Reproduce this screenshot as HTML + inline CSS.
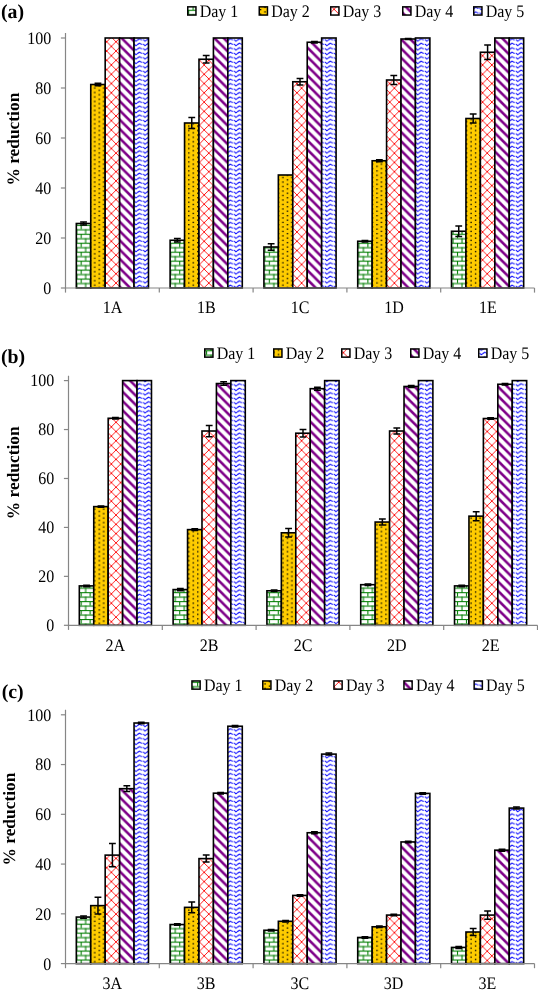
<!DOCTYPE html>
<html><head><meta charset="utf-8"><style>
html,body{margin:0;padding:0;background:#fff;}
text{text-rendering:geometricPrecision;}
svg{display:block;will-change:transform;}
.t{font-family:"Liberation Serif",serif;font-size:16.0px;fill:#000;}
.yl{font-family:"Liberation Serif",serif;font-size:17.4px;font-weight:bold;fill:#000;}
.pl{font-family:"Liberation Serif",serif;font-size:19.8px;font-weight:bold;fill:#000;}
</style></head><body>
<svg width="538" height="994" viewBox="0 0 538 994">
<defs>
<pattern id="p1" patternUnits="userSpaceOnUse" width="8" height="8" patternTransform="translate(0,0.8) scale(1.12)">
<rect width="8" height="8" fill="#fff"/>
<rect x="0" y="0" width="8" height="0.95" fill="#007d00"/><rect x="0" y="4" width="8" height="0.95" fill="#007d00"/>
<rect x="0" y="0" width="0.95" height="4" fill="#007d00"/><rect x="4" y="4" width="0.95" height="4" fill="#007d00"/></pattern>
<pattern id="p2" patternUnits="userSpaceOnUse" width="8" height="8" patternTransform="scale(1.12)">
<rect width="8" height="8" fill="#ffcc00"/>
<rect x="0" y="0" width="1.2" height="1.2" fill="#000"/><rect x="4" y="2" width="1.2" height="1.2" fill="#000"/>
<rect x="0" y="4" width="1.2" height="1.2" fill="#000"/><rect x="4" y="6" width="1.2" height="1.2" fill="#000"/></pattern>
<pattern id="p3" patternUnits="userSpaceOnUse" width="8" height="8" patternTransform="scale(1.16)">
<rect width="8" height="8" fill="#fff"/>
<path d="M-1,-1 L9,9 M9,-1 L-1,9" stroke="#ff0000" stroke-width="0.75" fill="none"/></pattern>
<pattern id="p4" patternUnits="userSpaceOnUse" width="8" height="8" patternTransform="scale(1.16)">
<rect width="8" height="8" fill="#fff"/>
<path d="M-4,-4 L12,12 M-4,4 L4,12 M4,-4 L12,4" stroke="#7e0088" stroke-width="2.2" fill="none"/></pattern>
<pattern id="p5" patternUnits="userSpaceOnUse" width="8" height="4" patternTransform="translate(3.35,1.9) scale(1.136,1.12)">
<rect width="8" height="4" fill="#fff"/>
<path d="M-1.7,1.9 L0,0.9 L1.5,1.9 L2.1,1.9 M3.0,1.9 L3.5,1.9 L4.75,3.1 L6.3,1.9 L8,0.9 L9.5,1.9" stroke="#0a0aff" stroke-width="0.95" fill="none" stroke-linejoin="round"/></pattern>
</defs>
<rect width="538" height="994" fill="#fff"/>
<rect x="76.32" y="223.50" width="14.43" height="64.50" fill="url(#p1)" stroke="#000" stroke-width="1.6"/>
<rect x="90.75" y="84.50" width="14.43" height="203.50" fill="url(#p2)" stroke="#000" stroke-width="1.6"/>
<rect x="105.18" y="38.00" width="14.43" height="250.00" fill="url(#p3)" stroke="#000" stroke-width="1.6"/>
<rect x="119.62" y="38.00" width="14.43" height="250.00" fill="url(#p4)" stroke="#000" stroke-width="1.6"/>
<rect x="134.05" y="38.00" width="14.43" height="250.00" fill="url(#p5)" stroke="#000" stroke-width="1.6"/>
<rect x="170.12" y="240.25" width="14.43" height="47.75" fill="url(#p1)" stroke="#000" stroke-width="1.6"/>
<rect x="184.55" y="123.00" width="14.43" height="165.00" fill="url(#p2)" stroke="#000" stroke-width="1.6"/>
<rect x="198.98" y="59.25" width="14.43" height="228.75" fill="url(#p3)" stroke="#000" stroke-width="1.6"/>
<rect x="213.42" y="38.00" width="14.43" height="250.00" fill="url(#p4)" stroke="#000" stroke-width="1.6"/>
<rect x="227.85" y="38.00" width="14.43" height="250.00" fill="url(#p5)" stroke="#000" stroke-width="1.6"/>
<rect x="263.92" y="247.00" width="14.43" height="41.00" fill="url(#p1)" stroke="#000" stroke-width="1.6"/>
<rect x="278.35" y="175.00" width="14.43" height="113.00" fill="url(#p2)" stroke="#000" stroke-width="1.6"/>
<rect x="292.78" y="81.75" width="14.43" height="206.25" fill="url(#p3)" stroke="#000" stroke-width="1.6"/>
<rect x="307.22" y="42.25" width="14.43" height="245.75" fill="url(#p4)" stroke="#000" stroke-width="1.6"/>
<rect x="321.65" y="38.00" width="14.43" height="250.00" fill="url(#p5)" stroke="#000" stroke-width="1.6"/>
<rect x="357.72" y="241.25" width="14.43" height="46.75" fill="url(#p1)" stroke="#000" stroke-width="1.6"/>
<rect x="372.15" y="160.75" width="14.43" height="127.25" fill="url(#p2)" stroke="#000" stroke-width="1.6"/>
<rect x="386.58" y="80.00" width="14.43" height="208.00" fill="url(#p3)" stroke="#000" stroke-width="1.6"/>
<rect x="401.02" y="39.00" width="14.43" height="249.00" fill="url(#p4)" stroke="#000" stroke-width="1.6"/>
<rect x="415.45" y="38.00" width="14.43" height="250.00" fill="url(#p5)" stroke="#000" stroke-width="1.6"/>
<rect x="451.52" y="231.25" width="14.43" height="56.75" fill="url(#p1)" stroke="#000" stroke-width="1.6"/>
<rect x="465.95" y="118.50" width="14.43" height="169.50" fill="url(#p2)" stroke="#000" stroke-width="1.6"/>
<rect x="480.38" y="52.25" width="14.43" height="235.75" fill="url(#p3)" stroke="#000" stroke-width="1.6"/>
<rect x="494.82" y="38.00" width="14.43" height="250.00" fill="url(#p4)" stroke="#000" stroke-width="1.6"/>
<rect x="509.25" y="38.00" width="14.43" height="250.00" fill="url(#p5)" stroke="#000" stroke-width="1.6"/>
<path d="M83.54,222.00V225.00M80.14,222.00H86.94M80.14,225.00H86.94" stroke="#000" stroke-width="1.5" fill="none"/>
<path d="M97.97,83.25V85.75M94.57,83.25H101.37M94.57,85.75H101.37" stroke="#000" stroke-width="1.5" fill="none"/>
<path d="M177.34,238.38V242.12M173.94,238.38H180.74M173.94,242.12H180.74" stroke="#000" stroke-width="1.5" fill="none"/>
<path d="M191.77,117.62V128.38M188.37,117.62H195.17M188.37,128.38H195.17" stroke="#000" stroke-width="1.5" fill="none"/>
<path d="M206.20,55.50V63.00M202.80,55.50H209.60M202.80,63.00H209.60" stroke="#000" stroke-width="1.5" fill="none"/>
<path d="M271.14,243.75V250.25M267.74,243.75H274.54M267.74,250.25H274.54" stroke="#000" stroke-width="1.5" fill="none"/>
<path d="M300.00,78.62V84.88M296.60,78.62H303.40M296.60,84.88H303.40" stroke="#000" stroke-width="1.5" fill="none"/>
<path d="M314.43,41.50V43.00M311.03,41.50H317.83M311.03,43.00H317.83" stroke="#000" stroke-width="1.5" fill="none"/>
<path d="M364.94,240.50V242.00M361.54,240.50H368.34M361.54,242.00H368.34" stroke="#000" stroke-width="1.5" fill="none"/>
<path d="M379.37,159.75V161.75M375.97,159.75H382.77M375.97,161.75H382.77" stroke="#000" stroke-width="1.5" fill="none"/>
<path d="M393.80,75.62V84.38M390.40,75.62H397.20M390.40,84.38H397.20" stroke="#000" stroke-width="1.5" fill="none"/>
<path d="M408.23,38.50V39.50M404.83,38.50H411.63M404.83,39.50H411.63" stroke="#000" stroke-width="1.5" fill="none"/>
<path d="M458.74,226.00V236.50M455.34,226.00H462.14M455.34,236.50H462.14" stroke="#000" stroke-width="1.5" fill="none"/>
<path d="M473.17,114.12V122.88M469.77,114.12H476.57M469.77,122.88H476.57" stroke="#000" stroke-width="1.5" fill="none"/>
<path d="M487.60,44.88V59.62M484.20,44.88H491.00M484.20,59.62H491.00" stroke="#000" stroke-width="1.5" fill="none"/>
<path d="M65.50,33.00V288.00H534.50" stroke="#868686" stroke-width="1.2" fill="none"/>
<path d="M60.90,288.00H65.50" stroke="#868686" stroke-width="1.2"/>
<text transform="translate(51.30,293.70) scale(1,1.1)" text-anchor="end" class="t">0</text>
<path d="M60.90,238.00H65.50" stroke="#868686" stroke-width="1.2"/>
<text transform="translate(51.30,243.70) scale(1,1.1)" text-anchor="end" class="t">20</text>
<path d="M60.90,188.00H65.50" stroke="#868686" stroke-width="1.2"/>
<text transform="translate(51.30,193.70) scale(1,1.1)" text-anchor="end" class="t">40</text>
<path d="M60.90,138.00H65.50" stroke="#868686" stroke-width="1.2"/>
<text transform="translate(51.30,143.70) scale(1,1.1)" text-anchor="end" class="t">60</text>
<path d="M60.90,88.00H65.50" stroke="#868686" stroke-width="1.2"/>
<text transform="translate(51.30,93.70) scale(1,1.1)" text-anchor="end" class="t">80</text>
<path d="M60.90,38.00H65.50" stroke="#868686" stroke-width="1.2"/>
<text transform="translate(51.30,43.70) scale(1,1.1)" text-anchor="end" class="t">100</text>
<path d="M65.50,288.00V292.60" stroke="#868686" stroke-width="1.2"/>
<path d="M159.30,288.00V292.60" stroke="#868686" stroke-width="1.2"/>
<path d="M253.10,288.00V292.60" stroke="#868686" stroke-width="1.2"/>
<path d="M346.90,288.00V292.60" stroke="#868686" stroke-width="1.2"/>
<path d="M440.70,288.00V292.60" stroke="#868686" stroke-width="1.2"/>
<path d="M534.50,288.00V292.60" stroke="#868686" stroke-width="1.2"/>
<text transform="translate(112.60,312.80) scale(1,1.1)" text-anchor="middle" class="t">1A</text>
<text transform="translate(206.40,312.80) scale(1,1.1)" text-anchor="middle" class="t">1B</text>
<text transform="translate(300.20,312.80) scale(1,1.1)" text-anchor="middle" class="t">1C</text>
<text transform="translate(394.00,312.80) scale(1,1.1)" text-anchor="middle" class="t">1D</text>
<text transform="translate(487.80,312.80) scale(1,1.1)" text-anchor="middle" class="t">1E</text>
<text transform="translate(19.30,139.15) rotate(-90)" text-anchor="middle" class="yl">% reduction</text>
<text x="1.00" y="17.60" class="pl">(a)</text>
<rect x="187.75" y="6.85" width="8.2" height="8.2" fill="url(#p1)" stroke="#000" stroke-width="1.5"/>
<text transform="translate(199.70,16.80) scale(1,1.1)" text-anchor="start" class="t">Day 1</text>
<rect x="259.25" y="6.85" width="8.2" height="8.2" fill="url(#p2)" stroke="#000" stroke-width="1.5"/>
<text transform="translate(271.20,16.80) scale(1,1.1)" text-anchor="start" class="t">Day 2</text>
<rect x="330.75" y="6.85" width="8.2" height="8.2" fill="url(#p3)" stroke="#000" stroke-width="1.5"/>
<text transform="translate(342.70,16.80) scale(1,1.1)" text-anchor="start" class="t">Day 3</text>
<rect x="402.75" y="6.85" width="8.2" height="8.2" fill="url(#p4)" stroke="#000" stroke-width="1.5"/>
<text transform="translate(414.70,16.80) scale(1,1.1)" text-anchor="start" class="t">Day 4</text>
<rect x="473.75" y="6.85" width="8.2" height="8.2" fill="url(#p5)" stroke="#000" stroke-width="1.5"/>
<text transform="translate(485.70,16.80) scale(1,1.1)" text-anchor="start" class="t">Day 5</text><rect x="79.32" y="585.90" width="14.43" height="39.40" fill="url(#p1)" stroke="#000" stroke-width="1.6"/>
<rect x="93.75" y="506.62" width="14.43" height="118.68" fill="url(#p2)" stroke="#000" stroke-width="1.6"/>
<rect x="108.18" y="418.28" width="14.43" height="207.02" fill="url(#p3)" stroke="#000" stroke-width="1.6"/>
<rect x="122.62" y="380.60" width="14.43" height="244.70" fill="url(#p4)" stroke="#000" stroke-width="1.6"/>
<rect x="137.05" y="380.60" width="14.43" height="244.70" fill="url(#p5)" stroke="#000" stroke-width="1.6"/>
<rect x="173.12" y="589.57" width="14.43" height="35.73" fill="url(#p1)" stroke="#000" stroke-width="1.6"/>
<rect x="187.55" y="529.62" width="14.43" height="95.68" fill="url(#p2)" stroke="#000" stroke-width="1.6"/>
<rect x="201.98" y="431.01" width="14.43" height="194.29" fill="url(#p3)" stroke="#000" stroke-width="1.6"/>
<rect x="216.42" y="383.54" width="14.43" height="241.76" fill="url(#p4)" stroke="#000" stroke-width="1.6"/>
<rect x="230.85" y="380.60" width="14.43" height="244.70" fill="url(#p5)" stroke="#000" stroke-width="1.6"/>
<rect x="266.92" y="590.80" width="14.43" height="34.50" fill="url(#p1)" stroke="#000" stroke-width="1.6"/>
<rect x="281.35" y="532.80" width="14.43" height="92.50" fill="url(#p2)" stroke="#000" stroke-width="1.6"/>
<rect x="295.78" y="433.21" width="14.43" height="192.09" fill="url(#p3)" stroke="#000" stroke-width="1.6"/>
<rect x="310.22" y="388.68" width="14.43" height="236.62" fill="url(#p4)" stroke="#000" stroke-width="1.6"/>
<rect x="324.65" y="380.60" width="14.43" height="244.70" fill="url(#p5)" stroke="#000" stroke-width="1.6"/>
<rect x="360.72" y="584.68" width="14.43" height="40.62" fill="url(#p1)" stroke="#000" stroke-width="1.6"/>
<rect x="375.15" y="522.04" width="14.43" height="103.26" fill="url(#p2)" stroke="#000" stroke-width="1.6"/>
<rect x="389.58" y="431.01" width="14.43" height="194.29" fill="url(#p3)" stroke="#000" stroke-width="1.6"/>
<rect x="404.02" y="386.47" width="14.43" height="238.83" fill="url(#p4)" stroke="#000" stroke-width="1.6"/>
<rect x="418.45" y="380.60" width="14.43" height="244.70" fill="url(#p5)" stroke="#000" stroke-width="1.6"/>
<rect x="454.52" y="585.90" width="14.43" height="39.40" fill="url(#p1)" stroke="#000" stroke-width="1.6"/>
<rect x="468.95" y="516.16" width="14.43" height="109.14" fill="url(#p2)" stroke="#000" stroke-width="1.6"/>
<rect x="483.38" y="418.53" width="14.43" height="206.77" fill="url(#p3)" stroke="#000" stroke-width="1.6"/>
<rect x="497.82" y="384.27" width="14.43" height="241.03" fill="url(#p4)" stroke="#000" stroke-width="1.6"/>
<rect x="512.25" y="380.60" width="14.43" height="244.70" fill="url(#p5)" stroke="#000" stroke-width="1.6"/>
<path d="M86.54,585.17V586.64M83.14,585.17H89.94M83.14,586.64H89.94" stroke="#000" stroke-width="1.5" fill="none"/>
<path d="M100.97,505.89V507.35M97.57,505.89H104.37M97.57,507.35H104.37" stroke="#000" stroke-width="1.5" fill="none"/>
<path d="M115.40,417.55V419.02M112.00,417.55H118.80M112.00,419.02H118.80" stroke="#000" stroke-width="1.5" fill="none"/>
<path d="M180.34,588.47V590.67M176.94,588.47H183.74M176.94,590.67H183.74" stroke="#000" stroke-width="1.5" fill="none"/>
<path d="M194.77,528.64V530.60M191.37,528.64H198.17M191.37,530.60H198.17" stroke="#000" stroke-width="1.5" fill="none"/>
<path d="M209.20,425.38V436.64M205.80,425.38H212.60M205.80,436.64H212.60" stroke="#000" stroke-width="1.5" fill="none"/>
<path d="M223.63,381.82V385.25M220.23,381.82H227.03M220.23,385.25H227.03" stroke="#000" stroke-width="1.5" fill="none"/>
<path d="M274.14,590.06V591.53M270.74,590.06H277.54M270.74,591.53H277.54" stroke="#000" stroke-width="1.5" fill="none"/>
<path d="M288.57,528.52V537.09M285.17,528.52H291.97M285.17,537.09H291.97" stroke="#000" stroke-width="1.5" fill="none"/>
<path d="M303.00,429.42V437.00M299.60,429.42H306.40M299.60,437.00H306.40" stroke="#000" stroke-width="1.5" fill="none"/>
<path d="M317.43,387.21V390.14M314.03,387.21H320.83M314.03,390.14H320.83" stroke="#000" stroke-width="1.5" fill="none"/>
<path d="M367.94,583.95V585.41M364.54,583.95H371.34M364.54,585.41H371.34" stroke="#000" stroke-width="1.5" fill="none"/>
<path d="M382.37,519.10V524.97M378.97,519.10H385.77M378.97,524.97H385.77" stroke="#000" stroke-width="1.5" fill="none"/>
<path d="M396.80,428.07V433.94M393.40,428.07H400.20M393.40,433.94H400.20" stroke="#000" stroke-width="1.5" fill="none"/>
<path d="M411.23,385.49V387.45M407.83,385.49H414.63M407.83,387.45H414.63" stroke="#000" stroke-width="1.5" fill="none"/>
<path d="M461.74,585.17V586.64M458.34,585.17H465.14M458.34,586.64H465.14" stroke="#000" stroke-width="1.5" fill="none"/>
<path d="M476.17,511.64V520.69M472.77,511.64H479.57M472.77,520.69H479.57" stroke="#000" stroke-width="1.5" fill="none"/>
<path d="M490.60,417.79V419.26M487.20,417.79H494.00M487.20,419.26H494.00" stroke="#000" stroke-width="1.5" fill="none"/>
<path d="M505.03,383.54V385.00M501.63,383.54H508.43M501.63,385.00H508.43" stroke="#000" stroke-width="1.5" fill="none"/>
<path d="M68.50,375.71V625.30H537.50" stroke="#868686" stroke-width="1.2" fill="none"/>
<path d="M63.90,625.30H68.50" stroke="#868686" stroke-width="1.2"/>
<text transform="translate(54.30,630.90) scale(1,1.1)" text-anchor="end" class="t">0</text>
<path d="M63.90,576.36H68.50" stroke="#868686" stroke-width="1.2"/>
<text transform="translate(54.30,581.96) scale(1,1.1)" text-anchor="end" class="t">20</text>
<path d="M63.90,527.42H68.50" stroke="#868686" stroke-width="1.2"/>
<text transform="translate(54.30,533.02) scale(1,1.1)" text-anchor="end" class="t">40</text>
<path d="M63.90,478.48H68.50" stroke="#868686" stroke-width="1.2"/>
<text transform="translate(54.30,484.08) scale(1,1.1)" text-anchor="end" class="t">60</text>
<path d="M63.90,429.54H68.50" stroke="#868686" stroke-width="1.2"/>
<text transform="translate(54.30,435.14) scale(1,1.1)" text-anchor="end" class="t">80</text>
<path d="M63.90,380.60H68.50" stroke="#868686" stroke-width="1.2"/>
<text transform="translate(54.30,386.20) scale(1,1.1)" text-anchor="end" class="t">100</text>
<path d="M68.50,625.30V629.90" stroke="#868686" stroke-width="1.2"/>
<path d="M162.30,625.30V629.90" stroke="#868686" stroke-width="1.2"/>
<path d="M256.10,625.30V629.90" stroke="#868686" stroke-width="1.2"/>
<path d="M349.90,625.30V629.90" stroke="#868686" stroke-width="1.2"/>
<path d="M443.70,625.30V629.90" stroke="#868686" stroke-width="1.2"/>
<path d="M537.50,625.30V629.90" stroke="#868686" stroke-width="1.2"/>
<text transform="translate(115.40,650.70) scale(1,1.1)" text-anchor="middle" class="t">2A</text>
<text transform="translate(209.20,650.70) scale(1,1.1)" text-anchor="middle" class="t">2B</text>
<text transform="translate(303.00,650.70) scale(1,1.1)" text-anchor="middle" class="t">2C</text>
<text transform="translate(396.80,650.70) scale(1,1.1)" text-anchor="middle" class="t">2D</text>
<text transform="translate(490.60,650.70) scale(1,1.1)" text-anchor="middle" class="t">2E</text>
<text transform="translate(19.30,472.75) rotate(-90)" text-anchor="middle" class="yl">% reduction</text>
<text x="1.00" y="363.30" class="pl">(b)</text>
<rect x="204.75" y="348.95" width="8.2" height="8.2" fill="url(#p1)" stroke="#000" stroke-width="1.5"/>
<text transform="translate(216.70,358.80) scale(1,1.1)" text-anchor="start" class="t">Day 1</text>
<rect x="273.75" y="348.95" width="8.2" height="8.2" fill="url(#p2)" stroke="#000" stroke-width="1.5"/>
<text transform="translate(285.70,358.80) scale(1,1.1)" text-anchor="start" class="t">Day 2</text>
<rect x="341.75" y="348.95" width="8.2" height="8.2" fill="url(#p3)" stroke="#000" stroke-width="1.5"/>
<text transform="translate(353.70,358.80) scale(1,1.1)" text-anchor="start" class="t">Day 3</text>
<rect x="410.75" y="348.95" width="8.2" height="8.2" fill="url(#p4)" stroke="#000" stroke-width="1.5"/>
<text transform="translate(422.70,358.80) scale(1,1.1)" text-anchor="start" class="t">Day 4</text>
<rect x="478.75" y="348.95" width="8.2" height="8.2" fill="url(#p5)" stroke="#000" stroke-width="1.5"/>
<text transform="translate(490.70,358.80) scale(1,1.1)" text-anchor="start" class="t">Day 5</text><rect x="76.32" y="917.07" width="14.43" height="46.53" fill="url(#p1)" stroke="#000" stroke-width="1.6"/>
<rect x="90.75" y="905.63" width="14.43" height="57.97" fill="url(#p2)" stroke="#000" stroke-width="1.6"/>
<rect x="105.18" y="855.12" width="14.43" height="108.48" fill="url(#p3)" stroke="#000" stroke-width="1.6"/>
<rect x="119.62" y="788.69" width="14.43" height="174.91" fill="url(#p4)" stroke="#000" stroke-width="1.6"/>
<rect x="134.05" y="723.01" width="14.43" height="240.59" fill="url(#p5)" stroke="#000" stroke-width="1.6"/>
<rect x="170.12" y="924.54" width="14.43" height="39.06" fill="url(#p1)" stroke="#000" stroke-width="1.6"/>
<rect x="184.55" y="907.37" width="14.43" height="56.23" fill="url(#p2)" stroke="#000" stroke-width="1.6"/>
<rect x="198.98" y="858.61" width="14.43" height="104.99" fill="url(#p3)" stroke="#000" stroke-width="1.6"/>
<rect x="213.42" y="793.17" width="14.43" height="170.43" fill="url(#p4)" stroke="#000" stroke-width="1.6"/>
<rect x="227.85" y="726.24" width="14.43" height="237.36" fill="url(#p5)" stroke="#000" stroke-width="1.6"/>
<rect x="263.92" y="930.26" width="14.43" height="33.34" fill="url(#p1)" stroke="#000" stroke-width="1.6"/>
<rect x="278.35" y="921.30" width="14.43" height="42.30" fill="url(#p2)" stroke="#000" stroke-width="1.6"/>
<rect x="292.78" y="895.43" width="14.43" height="68.17" fill="url(#p3)" stroke="#000" stroke-width="1.6"/>
<rect x="307.22" y="832.73" width="14.43" height="130.87" fill="url(#p4)" stroke="#000" stroke-width="1.6"/>
<rect x="321.65" y="754.11" width="14.43" height="209.49" fill="url(#p5)" stroke="#000" stroke-width="1.6"/>
<rect x="357.72" y="937.48" width="14.43" height="26.12" fill="url(#p1)" stroke="#000" stroke-width="1.6"/>
<rect x="372.15" y="926.78" width="14.43" height="36.82" fill="url(#p2)" stroke="#000" stroke-width="1.6"/>
<rect x="386.58" y="915.08" width="14.43" height="48.52" fill="url(#p3)" stroke="#000" stroke-width="1.6"/>
<rect x="401.02" y="841.94" width="14.43" height="121.66" fill="url(#p4)" stroke="#000" stroke-width="1.6"/>
<rect x="415.45" y="793.42" width="14.43" height="170.18" fill="url(#p5)" stroke="#000" stroke-width="1.6"/>
<rect x="451.52" y="947.43" width="14.43" height="16.17" fill="url(#p1)" stroke="#000" stroke-width="1.6"/>
<rect x="465.95" y="932.00" width="14.43" height="31.60" fill="url(#p2)" stroke="#000" stroke-width="1.6"/>
<rect x="480.38" y="915.08" width="14.43" height="48.52" fill="url(#p3)" stroke="#000" stroke-width="1.6"/>
<rect x="494.82" y="850.15" width="14.43" height="113.45" fill="url(#p4)" stroke="#000" stroke-width="1.6"/>
<rect x="509.25" y="808.10" width="14.43" height="155.50" fill="url(#p5)" stroke="#000" stroke-width="1.6"/>
<path d="M83.54,915.95V918.19M80.14,915.95H86.94M80.14,918.19H86.94" stroke="#000" stroke-width="1.5" fill="none"/>
<path d="M97.97,897.29V913.96M94.57,897.29H101.37M94.57,913.96H101.37" stroke="#000" stroke-width="1.5" fill="none"/>
<path d="M112.40,843.55V866.69M109.00,843.55H115.80M109.00,866.69H115.80" stroke="#000" stroke-width="1.5" fill="none"/>
<path d="M126.83,785.83V791.55M123.43,785.83H130.23M123.43,791.55H130.23" stroke="#000" stroke-width="1.5" fill="none"/>
<path d="M141.26,722.26V723.76M137.86,722.26H144.66M137.86,723.76H144.66" stroke="#000" stroke-width="1.5" fill="none"/>
<path d="M177.34,923.79V925.28M173.94,923.79H180.74M173.94,925.28H180.74" stroke="#000" stroke-width="1.5" fill="none"/>
<path d="M191.77,902.02V912.72M188.37,902.02H195.17M188.37,912.72H195.17" stroke="#000" stroke-width="1.5" fill="none"/>
<path d="M206.20,855.12V862.09M202.80,855.12H209.60M202.80,862.09H209.60" stroke="#000" stroke-width="1.5" fill="none"/>
<path d="M220.63,792.43V793.92M217.23,792.43H224.03M217.23,793.92H224.03" stroke="#000" stroke-width="1.5" fill="none"/>
<path d="M235.06,725.50V726.99M231.66,725.50H238.46M231.66,726.99H238.46" stroke="#000" stroke-width="1.5" fill="none"/>
<path d="M271.14,929.51V931.01M267.74,929.51H274.54M267.74,931.01H274.54" stroke="#000" stroke-width="1.5" fill="none"/>
<path d="M285.57,920.56V922.05M282.17,920.56H288.97M282.17,922.05H288.97" stroke="#000" stroke-width="1.5" fill="none"/>
<path d="M300.00,894.68V896.18M296.60,894.68H303.40M296.60,896.18H303.40" stroke="#000" stroke-width="1.5" fill="none"/>
<path d="M314.43,831.74V833.73M311.03,831.74H317.83M311.03,833.73H317.83" stroke="#000" stroke-width="1.5" fill="none"/>
<path d="M328.86,753.12V755.11M325.46,753.12H332.26M325.46,755.11H332.26" stroke="#000" stroke-width="1.5" fill="none"/>
<path d="M364.94,936.73V938.22M361.54,936.73H368.34M361.54,938.22H368.34" stroke="#000" stroke-width="1.5" fill="none"/>
<path d="M379.37,926.03V927.52M375.97,926.03H382.77M375.97,927.52H382.77" stroke="#000" stroke-width="1.5" fill="none"/>
<path d="M393.80,914.34V915.83M390.40,914.34H397.20M390.40,915.83H397.20" stroke="#000" stroke-width="1.5" fill="none"/>
<path d="M408.23,841.19V842.68M404.83,841.19H411.63M404.83,842.68H411.63" stroke="#000" stroke-width="1.5" fill="none"/>
<path d="M422.66,792.67V794.17M419.26,792.67H426.06M419.26,794.17H426.06" stroke="#000" stroke-width="1.5" fill="none"/>
<path d="M458.74,946.43V948.42M455.34,946.43H462.14M455.34,948.42H462.14" stroke="#000" stroke-width="1.5" fill="none"/>
<path d="M473.17,928.39V935.61M469.77,928.39H476.57M469.77,935.61H476.57" stroke="#000" stroke-width="1.5" fill="none"/>
<path d="M487.60,910.98V919.19M484.20,910.98H491.00M484.20,919.19H491.00" stroke="#000" stroke-width="1.5" fill="none"/>
<path d="M502.03,849.15V851.14M498.63,849.15H505.43M498.63,851.14H505.43" stroke="#000" stroke-width="1.5" fill="none"/>
<path d="M516.46,807.10V809.10M513.06,807.10H519.86M513.06,809.10H519.86" stroke="#000" stroke-width="1.5" fill="none"/>
<path d="M65.50,709.82V963.60H534.50" stroke="#868686" stroke-width="1.2" fill="none"/>
<path d="M60.90,963.60H65.50" stroke="#868686" stroke-width="1.2"/>
<text transform="translate(51.30,969.50) scale(1,1.1)" text-anchor="end" class="t">0</text>
<path d="M60.90,913.84H65.50" stroke="#868686" stroke-width="1.2"/>
<text transform="translate(51.30,919.74) scale(1,1.1)" text-anchor="end" class="t">20</text>
<path d="M60.90,864.08H65.50" stroke="#868686" stroke-width="1.2"/>
<text transform="translate(51.30,869.98) scale(1,1.1)" text-anchor="end" class="t">40</text>
<path d="M60.90,814.32H65.50" stroke="#868686" stroke-width="1.2"/>
<text transform="translate(51.30,820.22) scale(1,1.1)" text-anchor="end" class="t">60</text>
<path d="M60.90,764.56H65.50" stroke="#868686" stroke-width="1.2"/>
<text transform="translate(51.30,770.46) scale(1,1.1)" text-anchor="end" class="t">80</text>
<path d="M60.90,714.80H65.50" stroke="#868686" stroke-width="1.2"/>
<text transform="translate(51.30,720.70) scale(1,1.1)" text-anchor="end" class="t">100</text>
<path d="M65.50,963.60V968.20" stroke="#868686" stroke-width="1.2"/>
<path d="M159.30,963.60V968.20" stroke="#868686" stroke-width="1.2"/>
<path d="M253.10,963.60V968.20" stroke="#868686" stroke-width="1.2"/>
<path d="M346.90,963.60V968.20" stroke="#868686" stroke-width="1.2"/>
<path d="M440.70,963.60V968.20" stroke="#868686" stroke-width="1.2"/>
<path d="M534.50,963.60V968.20" stroke="#868686" stroke-width="1.2"/>
<text transform="translate(112.20,989.20) scale(1,1.1)" text-anchor="middle" class="t">3A</text>
<text transform="translate(206.00,989.20) scale(1,1.1)" text-anchor="middle" class="t">3B</text>
<text transform="translate(299.80,989.20) scale(1,1.1)" text-anchor="middle" class="t">3C</text>
<text transform="translate(393.60,989.20) scale(1,1.1)" text-anchor="middle" class="t">3D</text>
<text transform="translate(487.40,989.20) scale(1,1.1)" text-anchor="middle" class="t">3E</text>
<text transform="translate(15.10,819.05) rotate(-90)" text-anchor="middle" class="yl">% reduction</text>
<text x="1.70" y="698.00" class="pl">(c)</text>
<rect x="191.95" y="680.95" width="8.2" height="8.2" fill="url(#p1)" stroke="#000" stroke-width="1.5"/>
<text transform="translate(203.90,690.60) scale(1,1.1)" text-anchor="start" class="t">Day 1</text>
<rect x="262.75" y="680.95" width="8.2" height="8.2" fill="url(#p2)" stroke="#000" stroke-width="1.5"/>
<text transform="translate(274.70,690.60) scale(1,1.1)" text-anchor="start" class="t">Day 2</text>
<rect x="333.95" y="680.95" width="8.2" height="8.2" fill="url(#p3)" stroke="#000" stroke-width="1.5"/>
<text transform="translate(345.90,690.60) scale(1,1.1)" text-anchor="start" class="t">Day 3</text>
<rect x="403.95" y="680.95" width="8.2" height="8.2" fill="url(#p4)" stroke="#000" stroke-width="1.5"/>
<text transform="translate(415.90,690.60) scale(1,1.1)" text-anchor="start" class="t">Day 4</text>
<rect x="474.15" y="680.95" width="8.2" height="8.2" fill="url(#p5)" stroke="#000" stroke-width="1.5"/>
<text transform="translate(486.10,690.60) scale(1,1.1)" text-anchor="start" class="t">Day 5</text>
</svg>
</body></html>
